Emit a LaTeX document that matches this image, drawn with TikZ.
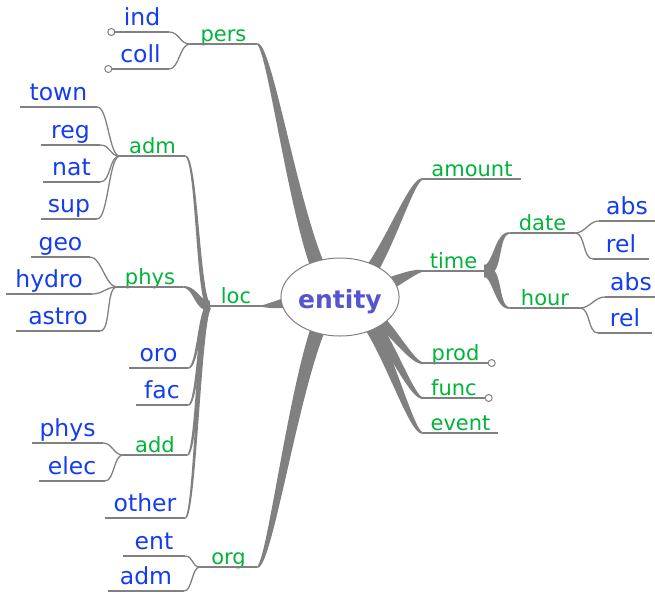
\documentclass[tikz,border=0pt]{standalone}
\usepackage{fontspec}
\setmainfont{DejaVu Sans}
\usetikzlibrary{calc,shapes.geometric}
\pgfdeclarelayer{background}
\pgfsetlayers{background,main}

\definecolor{edgegray}{HTML}{808080}
\definecolor{lvlgreen}{HTML}{00B439}
\definecolor{leafblue}{RGB}{20,60,240}
\definecolor{rootblue}{HTML}{5555CC}

\def\mmN{40}
% tapered bezier filled as one outline:
% start, control 1, control 2, end, start width, end width
\newcommand\mmtaper[6]{%
  \path #1 .. controls #2 and #3 .. #4
    foreach \k in {0,...,\mmN}{ coordinate[pos=\k/\mmN] (tq\k)
                                coordinate[pos=\k/\mmN+0.01] (tr\k) };
  \foreach \k in {0,...,\mmN}{%
    \pgfmathsetmacro\hw{(#5+(#6-#5)*\k/\mmN)/2}%
    \coordinate (tl\k) at ($(tq\k)!\hw pt!90:(tr\k)$);
    \coordinate (tm\k) at ($(tq\k)!\hw pt!-90:(tr\k)$);
  }%
  \fill[edgegray] (tl0) foreach \k in {1,...,\mmN}{ -- (tl\k) }
    foreach \k in {\mmN,...,0}{ -- (tm\k) } -- cycle;
}

% underlined map node: style, name, left x, right x, underline y, text
\newcommand\mmnode[6]{%
  \node[#1, minimum width={(#4)-(#3)}] (#2) at ({((#3)+(#4))/2}, #5) {#6};%
}

\begin{document}
\begin{tikzpicture}[x=1pt, y=-1pt,
  lvl/.style={text=lvlgreen, font=\fontsize{21}{25}\selectfont, anchor=south,
    inner xsep=0pt, inner ysep=2.5pt, text depth=0pt},
  leaf/.style={text=leafblue, font=\fontsize{23.5}{28}\selectfont, anchor=south,
    inner xsep=0pt, inner ysep=6.5pt, text depth=0pt},
  rootnode/.style={ellipse, draw=edgegray, line width=1pt, fill=white,
    minimum width=112pt, minimum height=78pt, inner sep=0pt, text=rootblue,
    font=\fontsize{25}{30}\selectfont\bfseries},
  uline/.style={edgegray, line width=1.3pt},
  twig/.style={edgegray, line width=1.3pt},
  fold/.style={edgegray, fill=white, line width=1pt}]

\useasboundingbox (0,0) rectangle (655,592);

\node[rootnode] (root) at (340,297) {\raisebox{-11pt}[0pt][0pt]{entity}};

% left side
\mmnode{lvl}{pers}{190}{257}{44}{pers}
\mmnode{leaf}{ind}{115}{169}{32}{ind}
\mmnode{leaf}{coll}{112}{169}{69}{coll}
\mmnode{lvl}{adm}{120}{185}{156}{adm}
\mmnode{leaf}{town}{20}{97}{107}{town}
\mmnode{leaf}{reg}{41}{100}{145}{reg}
\mmnode{leaf}{nat}{43}{100}{182}{nat}
\mmnode{leaf}{sup}{41}{97}{219}{sup}
\mmnode{lvl}{phys}{117}{183}{287}{phys}
\mmnode{leaf}{geo}{31}{90}{257}{geo}
\mmnode{leaf}{hydro}{6}{92}{294}{hydro}
\mmnode{leaf}{astro}{16}{100}{331}{astro}
\mmnode{lvl}{loc}{210}{262}{306}{loc}
\mmnode{leaf}{oro}{129}{188}{368}{oro}
\mmnode{leaf}{fac}{136}{188}{405}{fac}
\mmnode{lvl}{add}{123}{187}{455}{add}
\mmnode{leaf}{physb}{32}{103}{443}{phys}
\mmnode{leaf}{elec}{39}{105}{481}{elec}
\mmnode{leaf}{other}{105}{185}{518}{other}
\mmnode{lvl}{org}{200}{257}{567}{org}
\mmnode{leaf}{ent}{123}{185}{556}{ent}
\mmnode{leaf}{admb}{108}{184}{591}{adm}

% right side
\mmnode{lvl}{amount}{423}{521}{179}{amount}
\mmnode{lvl}{time}{423}{484}{271}{time}
\mmnode{lvl}{date}{510}{575}{233}{date}
\mmnode{leaf}{absd}{599}{655}{221}{abs}
\mmnode{leaf}{reld}{593}{649}{259}{rel}
\mmnode{lvl}{hour}{510}{580}{308}{hour}
\mmnode{leaf}{absh}{605}{657}{297}{abs}
\mmnode{leaf}{relh}{598}{652}{333}{rel}
\mmnode{lvl}{prod}{423}{488}{363}{prod}
\mmnode{lvl}{func}{423}{485}{398}{func}
\mmnode{lvl}{event}{423}{498}{433}{event}

% underlines
\foreach \n in {pers,ind,coll,adm,town,reg,nat,sup,phys,geo,hydro,astro,loc,
    oro,fac,add,physb,elec,other,org,ent,admb,amount,time,date,absd,reld,
    hour,absh,relh,prod,func,event}
  \draw[uline] (\n.south west) -- (\n.south east);

% folded-branch markers
\draw[fold] ($(ind.south west)+(-3.5,0)$) circle[radius=3.5pt];
\draw[fold] ($(coll.south west)+(-3.5,0)$) circle[radius=3.5pt];
\draw[fold] ($(prod.south east)+(3.5,0)$) circle[radius=3.5pt];
\draw[fold] ($(func.south east)+(3.5,0)$) circle[radius=3.5pt];

\begin{pgfonlayer}{background}
  % main branches from the root
  \mmtaper{(root.center)}{+(-35,0)}{+(15,0)}{(pers.south east)}{18}{1.6}
  \mmtaper{(root.center)}{+(-35,0)}{+(15,0)}{(loc.south east)}{24}{1.6}
  \mmtaper{(root.center)}{+(-35,0)}{+(15,0)}{(org.south east)}{18}{1.6}
  \mmtaper{(root.center)}{+(35,0)}{+(-15,0)}{(amount.south west)}{18}{1.6}
  \mmtaper{(root.center)}{+(35,0)}{+(-15,0)}{(time.south west)}{24}{1.6}
  \mmtaper{(root.center)}{+(35,0)}{+(-15,0)}{(prod.south west)}{17}{1.6}
  \mmtaper{(root.center)}{+(35,0)}{+(-15,0)}{(func.south west)}{17}{1.6}
  \mmtaper{(root.center)}{+(35,0)}{+(-15,0)}{(event.south west)}{17}{1.6}

  % branches of loc
  \mmtaper{(loc.south west)}{+(-12,0)}{+(12,0)}{(adm.south east)}{5}{1.4}
  \mmtaper{(loc.south west)}{+(-12,0)}{+(12,0)}{(phys.south east)}{11}{1.4}
  \mmtaper{(loc.south west)}{+(-10,0)}{+(10,0)}{(oro.south east)}{5}{1.4}
  \mmtaper{(loc.south west)}{+(-10,0)}{+(10,0)}{(fac.south east)}{5}{1.4}
  \mmtaper{(loc.south west)}{+(-10,0)}{+(10,0)}{(add.south east)}{6}{1.4}
  \mmtaper{(loc.south west)}{+(-10,0)}{+(10,0)}{(other.south east)}{5}{1.4}

  % branches of time
  \mmtaper{(time.south east)}{+(14,0)}{+(-14,0)}{(date.south west)}{13}{1.4}
  \mmtaper{(time.south east)}{+(14,0)}{+(-14,0)}{(hour.south west)}{13}{1.4}
\end{pgfonlayer}

% leaf connectors
\draw[twig] (pers.south west) .. controls +(-10,0) and +(10,0) .. (ind.south east);
\draw[twig] (pers.south west) .. controls +(-10,0) and +(10,0) .. (coll.south east);
\draw[twig] (adm.south west) .. controls +(-11,0) and +(11,0) .. (town.south east);
\draw[twig] (adm.south west) .. controls +(-11,0) and +(11,0) .. (reg.south east);
\draw[twig] (adm.south west) .. controls +(-11,0) and +(11,0) .. (nat.south east);
\draw[twig] (adm.south west) .. controls +(-11,0) and +(11,0) .. (sup.south east);
\draw[twig] (phys.south west) .. controls +(-11,0) and +(11,0) .. (geo.south east);
\draw[twig] (phys.south west) .. controls +(-11,0) and +(11,0) .. (hydro.south east);
\draw[twig] (phys.south west) .. controls +(-11,0) and +(11,0) .. (astro.south east);
\draw[twig] (add.south west) .. controls +(-9,0) and +(9,0) .. (physb.south east);
\draw[twig] (add.south west) .. controls +(-9,0) and +(9,0) .. (elec.south east);
\draw[twig] (org.south west) .. controls +(-8,0) and +(8,0) .. (ent.south east);
\draw[twig] (org.south west) .. controls +(-8,0) and +(8,0) .. (admb.south east);
\draw[twig] (date.south east) .. controls +(10,0) and +(-10,0) .. (absd.south west);
\draw[twig] (date.south east) .. controls +(10,0) and +(-10,0) .. (reld.south west);
\draw[twig] (hour.south east) .. controls +(10,0) and +(-10,0) .. (absh.south west);
\draw[twig] (hour.south east) .. controls +(10,0) and +(-10,0) .. (relh.south west);
\end{tikzpicture}
\end{document}
